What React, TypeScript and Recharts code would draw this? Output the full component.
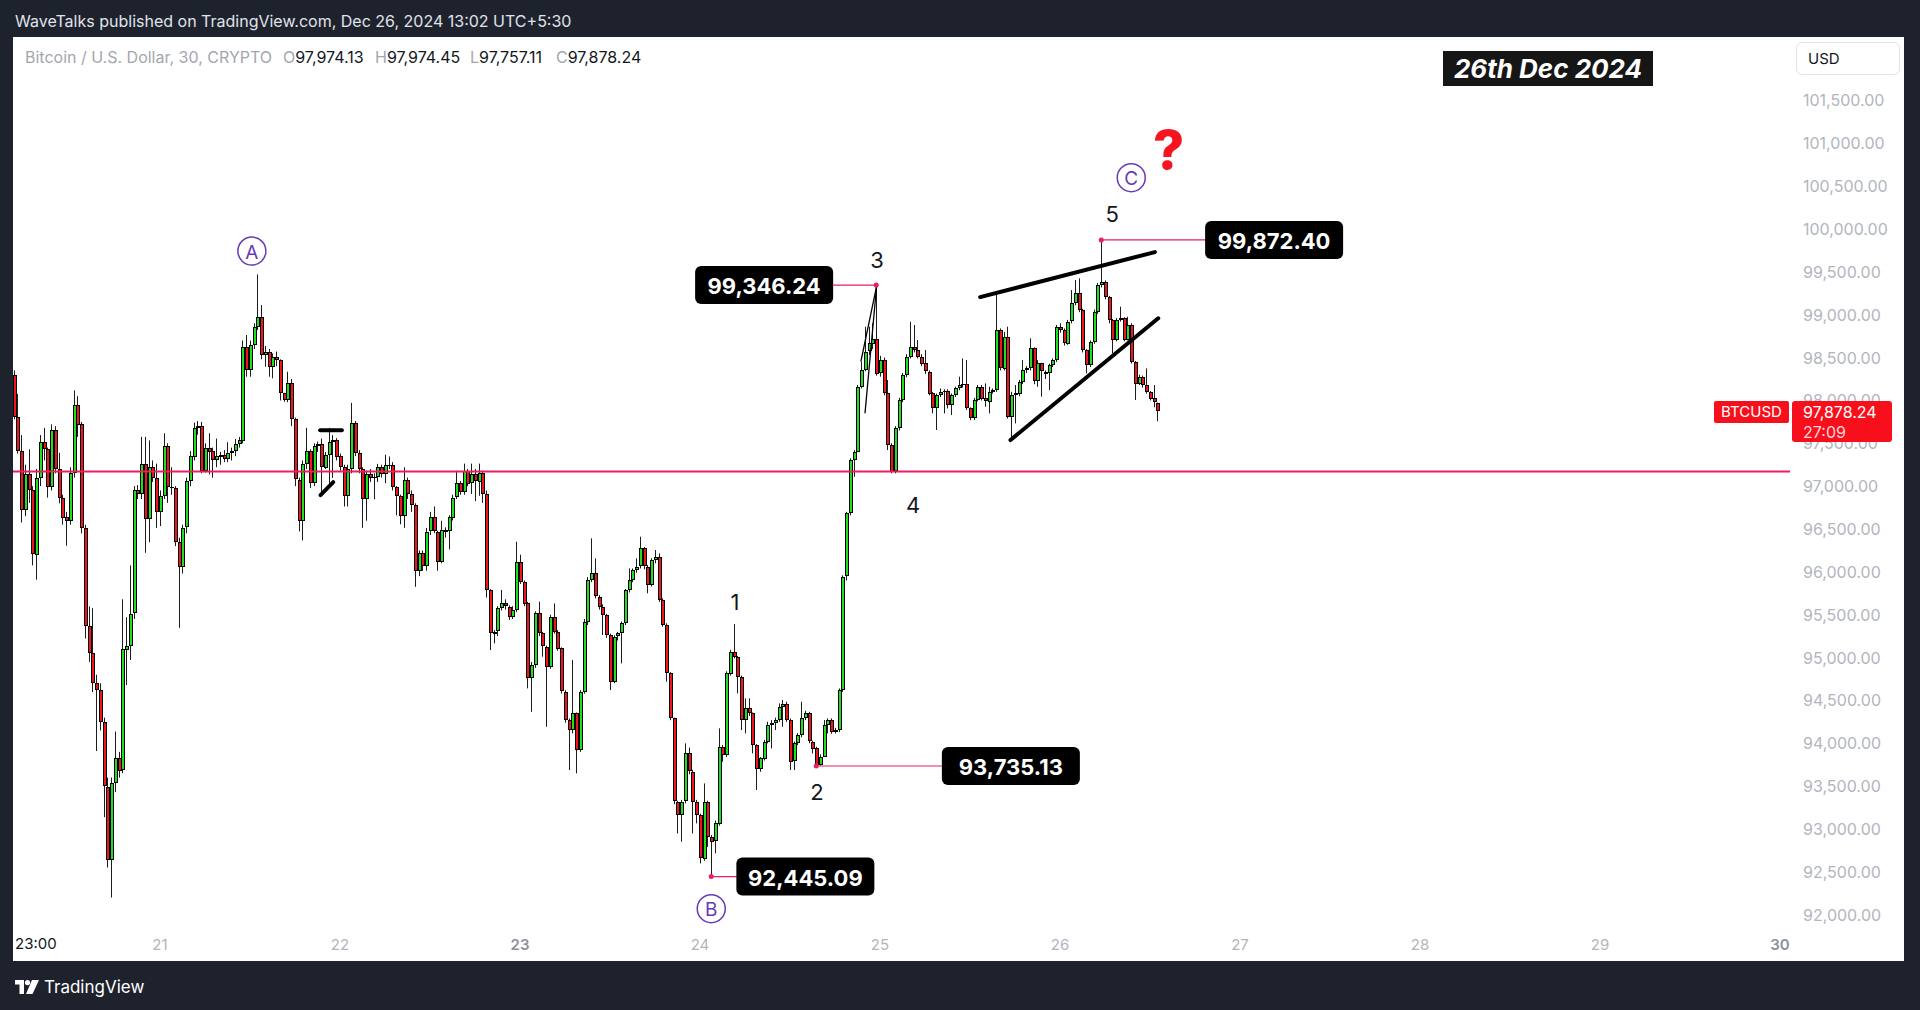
import { ComposedChart, Bar, XAxis, YAxis, ReferenceLine, ReferenceDot } from "recharts";

const FONT = "Inter, 'Noto Sans', sans-serif";
const GREEN = "#1fe01f";
const RED = "#f0141e";
const PINK = "#eb1e5f";
const PURPLE = "#673ab7";

// 30-minute bars, slot 0 = Dec 21 00:00 (UTC+5:30). open of a bar = close of the one before
const FIRST_SLOT = -39;
const FIRST_OPEN = 98300;

const closes = [
  97805, 97409, 96721, 97138, 96950, 96201, 97096, 97513, 97430, 96992,
  97659, 97200, 96867, 96638, 96596, 97159, 97950, 97721, 96513, 95367,
  95055, 94700, 94617, 94243, 93493, 92639, 93535, 93826, 93680, 95097,
  95138, 95513, 96950, 96909, 97263, 96617, 97221, 97096, 96700, 96888,
  97471, 96992, 96980, 96346, 96055, 96513, 97055, 97346, 97680, 97700,
  97180, 97450, 97409, 97305, 97346, 97367, 97320, 97388, 97409, 97492, 97534,
  98627, 98355, 98647, 98861, 98977, 98530, 98569, 98394, 98510, 98472, 98083, 98005, 98199, 97780,
  97076, 96597, 97263, 97409, 97034, 97471, 97492, 97221, 97367, 97513,
  97540, 97346, 97221, 96888, 97200, 97742, 97388, 97200, 96847, 97138,
  97096, 97105, 97221, 97138, 97242, 97250, 96992, 96888, 96659, 97076,
  96909, 96784, 96013, 96222, 96076, 96471, 96638, 96471, 96118, 96492,
  96471, 96638, 96867, 97034, 96930, 97180, 97034, 97138, 97055, 97159, 96909,
  95784, 95282, 95302, 95574, 95632, 95593, 95477, 95555, 96118, 95885,
  95632, 94757, 94913, 95516, 95282, 95127, 94893, 95477, 95302, 95107,
  94602, 94271, 94155, 94349, 93921, 94602, 95418, 95905, 95982, 95710,
  95593, 95496, 95263, 94718, 95243, 95282, 95399, 95788, 95905, 96021,
  96060, 96274, 96060, 95846, 96138, 96177, 95671, 95380, 94816, 94291,
  93318, 93163, 93318, 93882, 93668, 93318, 93163, 92657, 93318, 92910,
  92852, 93066, 93960, 93863, 94816, 95068, 95010, 94777, 94271, 94407,
  94349, 93980, 93696, 93824, 94018, 94213, 94232, 94271, 94427, 94458,
  94271, 93785, 93999, 94096, 94291, 94349, 94018, 93941, 93746, 93843,
  94213, 94271, 94135, 94155, 94621, 95944, 96682, 97305, 97402, 98160,
  98355, 98569, 98666, 98720, 98316, 98471, 98082, 97480, 97168, 97674,
  98005, 98297, 98510, 98627, 98588, 98510, 98432, 98335, 98082, 97907,
  98063, 98102, 98110, 97946, 98063, 98141, 98180, 98190, 97907, 97791,
  98005, 98160, 98024, 97985, 98102, 98121, 98821, 98374, 98744, 97810,
  98063, 98082, 98219, 98355, 98374, 98608, 98219, 98432, 98335, 98316,
  98413, 98471, 98860, 98821, 98666, 98918, 99132, 99249, 99055, 98588,
  98413, 98685, 99035, 99346, 99380, 99210, 98938, 98705, 98938, 98957,
  98705, 98880, 98452, 98199, 98277, 98180, 98102, 98024, 97974.13, 97878.24,
];

const highs = [
  98350, 98075, 97596, 97250, 97430, 97000, 97200, 97596, 97680, 97450,
  97721, 97700, 97388, 96900, 96700, 97221, 98117, 98050, 97750, 96550,
  95597, 95576, 94800, 94700, 94300, 93600, 93600, 94138, 93900, 95680,
  95472, 96076, 97000, 97013, 97575, 97575, 97534, 97300, 97263, 96950,
  97617, 97500, 97221, 97000, 96400, 96550, 97100, 97409, 97742, 97760,
  97750, 97500, 97617, 97450, 97555, 97400, 97420, 97513, 97450, 97550, 97575,
  98700, 98763, 98700, 98900, 99471, 99113, 98635, 98600, 98549, 98570, 98480, 98090, 98335, 98250,
  97800, 97100, 97300, 97680, 97430, 97500, 97520, 97555, 97400, 97680,
  97596, 97560, 97380, 97250, 97250, 97971, 97760, 97420, 97220, 97180,
  97200, 97150, 97260, 97250, 97367, 97346, 97280, 97000, 96900, 97221,
  97100, 96950, 96800, 96250, 96250, 96513, 96700, 96763, 96480, 96597,
  96520, 96660, 96900, 97180, 97060, 97263, 97200, 97263, 97200, 97263, 97180,
  96950, 95800, 95320, 95600, 95788, 95680, 95610, 95600, 96352, 96200,
  95900, 95650, 94950, 95540, 95652, 95300, 95140, 95500, 95632, 95320,
  95120, 94620, 94290, 94971, 94360, 94621, 95450, 95940, 96391, 96157,
  95730, 95620, 95510, 95280, 95260, 95300, 95420, 95800, 96041, 96040,
  96157, 96410, 96290, 96080, 96160, 96255, 96216, 95690, 95400, 94830,
  94300, 93330, 93340, 93999, 93950, 93690, 93340, 93180, 93532, 93330,
  92930, 93100, 94174, 93980, 94840, 95090, 95391, 95020, 94790, 94524,
  94524, 94360, 93990, 93840, 94040, 94252, 94271, 94300, 94466, 94505,
  94485, 94290, 94020, 94120, 94485, 94380, 94368, 94030, 93960, 93870,
  94271, 94290, 94291, 94180, 94640, 95960, 96700, 97324, 97420, 98180,
  98452, 98860, 98860, 98900, 99346.24, 98520, 98500, 98238, 97500, 97700,
  98030, 98320, 98540, 98918, 98880, 98705, 98540, 98588, 98350, 98100,
  98080, 98140, 98130, 98130, 98080, 98160, 98277, 98490, 98471, 97920,
  98030, 98180, 98180, 98199, 98160, 98140, 99230, 98840, 98800, 98860,
  98100, 98180, 98240, 98471, 98400, 98725, 98620, 98470, 98440, 98350,
  98430, 98490, 98880, 98900, 98840, 98940, 99288, 99405, 99424, 99070,
  98600, 98700, 99060, 99370, 99872.4, 99400, 99220, 98950, 98960, 99094,
  98970, 98977, 98900, 98460, 98300, 98290, 98374, 98110, 98180, 97974.45,
];

const lows = [
  97780, 97380, 96576, 96650, 96805, 96076, 95909, 97000, 97300, 96867,
  96950, 97150, 96800, 96550, 96305, 96550, 97100, 97575, 96450, 95222,
  94950, 94597, 93910, 94150, 93139, 92550, 92201, 93430, 93600, 93650,
  94680, 94972, 95450, 96850, 96850, 96222, 96346, 97050, 96513, 96534,
  96850, 96805, 96900, 96300, 95347, 95980, 96450, 97000, 97300, 97600,
  97150, 97159, 97138, 97100, 97221, 97250, 97280, 97280, 97300, 97350, 97450,
  97500, 98277, 98277, 98600, 98822, 98480, 98394, 98277, 98258, 98400, 98000, 97985, 97980, 97700,
  97000, 96472, 96367, 97200, 96980, 97000, 97400, 96888, 97200, 97013,
  97096, 97300, 97180, 96763, 96763, 97150, 97350, 97150, 96513, 96597,
  97050, 96847, 97050, 97100, 97034, 97200, 96950, 96659, 96555, 96513,
  96850, 96700, 95826, 95950, 96013, 96013, 96430, 96450, 96013, 96100,
  96400, 96263, 96600, 96850, 96900, 96900, 97000, 96909, 96826, 96888, 96805,
  95700, 95088, 95166, 95250, 95550, 95560, 95440, 95450, 95530, 95860,
  95600, 94641, 94368, 94880, 95250, 95010, 94193, 94870, 95280, 95080,
  94580, 94240, 93688, 94116, 93649, 93900, 94580, 95380, 95880, 95690,
  95560, 95263, 95230, 94621, 94700, 95200, 94932, 95380, 95760, 95880,
  95990, 96040, 96030, 95750, 95830, 96100, 95650, 95360, 94718, 94270,
  93290, 92949, 92852, 93300, 93640, 92949, 93066, 92599, 92630, 92793,
  92445.09, 92716, 93040, 93785, 93840, 94790, 94990, 94582, 94155, 94116,
  94320, 93882, 93455, 93668, 93800, 94000, 93941, 94155, 94250, 94193,
  94250, 93688, 93688, 93980, 94070, 94270, 94000, 93882, 93735.13, 93740,
  93960, 94116, 94110, 94116, 94130, 94600, 95900, 96660, 97110, 97400,
  98140, 98340, 98530, 98600, 98290, 98277, 98060, 97421, 97150, 97150,
  97650, 97980, 98270, 98490, 98560, 98490, 98400, 98310, 98060, 97849,
  97655, 98040, 97849, 97907, 97830, 98040, 98120, 98150, 97890, 97770,
  97771, 97990, 98000, 97927, 97849, 98080, 98100, 98350, 98350, 97790,
  97538, 97732, 98050, 98190, 98320, 98350, 98190, 98160, 98044, 98250,
  98121, 98390, 98450, 98790, 98640, 98650, 98900, 99110, 99030, 98560,
  98316, 98390, 98660, 99010, 99320, 99180, 98900, 98549, 98690, 98920,
  98690, 98700, 98430, 98005, 98180, 98150, 98080, 98000, 97920, 97757.11,
];

const dayTicks = [0, 48, 96, 144, 192, 240, 288, 336, 384, 432];
const dayLabels = ["21", "22", "23", "24", "25", "26", "27", "28", "29", "30"];
const strongDays = ["23", "30"];
const priceTicks = [
  92000, 92500, 93000, 93500, 94000, 94500, 95000, 95500, 96000, 96500,
  97000, 97500, 98000, 98500, 99000, 99500, 100000, 100500, 101000, 101500,
];

const SUPPORT = 97171;
const LAST_PRICE = 97878.24;

const priceMarks = [
  { t: 191, price: 99346.24, boxT: 161.1, text: "99,346.24" },
  { t: 251, price: 99872.4, boxT: 297.1, text: "99,872.40" },
  { t: 175, price: 93735.13, boxT: 226.9, text: "93,735.13" },
  { t: 147, price: 92445.09, boxT: 172.1, text: "92,445.09" },
];

const waveLabels = [
  { t: 153.3, price: 95645, text: "1" },
  { t: 175.2, price: 93430, text: "2" },
  { t: 191.2, price: 99643, text: "3" },
  { t: 200.8, price: 96786, text: "4" },
  { t: 253.9, price: 100171, text: "5" },
];

const circledLabels = [
  { t: 24.5, price: 99743, text: "A" },
  { t: 147, price: 92071, text: "B" },
  { t: 259, price: 100599, text: "C" },
];

// hand-drawn lines, in [slot, price] pairs
const thickLines = [
  [[218.7, 99206], [265.3, 99731]],
  [[226.8, 97538], [266.2, 98958]],
  [[42.7, 97651], [48.5, 97651]],
  [[42.8, 96896], [46.2, 97047]],
];
const thinLines = [
  [[186.9, 98452], [191.1, 99335]],
  [[191.1, 99335], [188, 97850]],
];

const X_MIN = -39.2;
const X_MAX = 434.67;
const Y_MIN = 91822;
const Y_MAX = 102240;
const PLOT_TOP = 37;
const PLOT_H = 893;
// same linear map the price axis uses, for the html last-price tag drawn over the axis
const priceToY = (p: number) => PLOT_TOP + ((Y_MAX - p) / (Y_MAX - Y_MIN)) * PLOT_H;

const candles = closes.map((close, i) => ({
  t: FIRST_SLOT + i,
  open: i === 0 ? FIRST_OPEN : closes[i - 1],
  close,
  high: highs[i],
  low: lows[i],
  range: [lows[i], highs[i]],
}));

const fmt = (v: number) =>
  v.toLocaleString("en-US", { minimumFractionDigits: 2, maximumFractionDigits: 2 });

function Candle(props: any) {
  const { x, y, width, height, payload } = props;
  if (x == null || y == null || !payload) return null;
  const top = Math.min(y, y + height);
  const h = Math.abs(height);
  const { open, close, high, low } = payload;
  const k = high > low ? h / (high - low) : 0;
  const yOf = (p: number) => top + (high - p) * k;
  const cx = Math.round(x + width / 2);
  const yO = yOf(open);
  const yC = yOf(close);
  const bTop = Math.round(Math.min(yO, yC));
  const bH = Math.max(Math.round(Math.abs(yO - yC)), 1);
  const up = close >= open;
  return (
    <g>
      <rect x={cx} y={top} width={1} height={Math.max(h, 1)} fill="#1c1c1c" />
      <rect x={cx - 1} y={bTop} width={4} height={bH} fill="#000" />
      {bH > 2 && (
        <rect x={cx} y={bTop + 1} width={2} height={bH - 2} fill={up ? GREEN : RED} />
      )}
    </g>
  );
}

function DayTick(props: any) {
  const { x, payload } = props;
  const label = dayLabels[dayTicks.indexOf(payload.value)] ?? "";
  const strong = strongDays.includes(label);
  return (
    <text
      x={x}
      y={944}
      textAnchor="middle"
      dominantBaseline="central"
      fontSize={15}
      fontFamily={FONT}
      fontWeight={strong ? 600 : 400}
      fill={strong ? "#8e9199" : "#b2b5be"}
    >
      {label}
    </text>
  );
}

function PriceTick(props: any) {
  const { y, payload } = props;
  return (
    <text x={1803} y={y} dominantBaseline="central" fontSize={16} fontFamily={FONT} fill="#b2b5be">
      {fmt(payload.value)}
    </text>
  );
}

export default function App() {
  const lastY = priceToY(LAST_PRICE);
  return (
    <div
      style={{
        position: "absolute",
        left: 0,
        top: 0,
        width: 1920,
        height: 1010,
        background: "#1e222d",
        fontFamily: FONT,
        overflow: "hidden",
      }}
    >
      <div style={{ position: "absolute", left: 15, top: 11, fontSize: 16, lineHeight: "20px", color: "#e0e3eb" }}>
        WaveTalks published on TradingView.com, Dec 26, 2024 13:02 UTC+5:30
      </div>

      <div style={{ position: "absolute", left: 13, top: 37, width: 1891, height: 924, background: "#ffffff" }} />

      <div style={{ position: "absolute", left: 0, top: 0 }}>
        <ComposedChart
          width={1920}
          height={1010}
          data={candles}
          margin={{ top: 37, right: 16, bottom: 49, left: 13 }}
        >
          <XAxis
            dataKey="t"
            type="number"
            domain={[X_MIN, X_MAX]}
            ticks={dayTicks}
            tick={(p: any) => <DayTick {...p} />}
            axisLine={false}
            tickLine={false}
            height={31}
            allowDataOverflow
          />
          <YAxis
            orientation="right"
            type="number"
            domain={[Y_MIN, Y_MAX]}
            ticks={priceTicks}
            tick={(p: any) => <PriceTick {...p} />}
            axisLine={false}
            tickLine={false}
            width={114}
            allowDataOverflow
          />
          <Bar dataKey="range" barSize={4} shape={(p: any) => <Candle {...p} />} isAnimationActive={false} />

          <ReferenceLine y={SUPPORT} stroke={PINK} strokeWidth={2} />

          {thickLines.map((s, i) => (
            <ReferenceLine
              key={`tl${i}`}
              segment={[{ x: s[0][0], y: s[0][1] }, { x: s[1][0], y: s[1][1] }]}
              stroke="#000"
              strokeWidth={4}
              strokeLinecap="round"
            />
          ))}
          {thinLines.map((s, i) => (
            <ReferenceLine
              key={`nl${i}`}
              segment={[{ x: s[0][0], y: s[0][1] }, { x: s[1][0], y: s[1][1] }]}
              stroke="#000"
              strokeWidth={1.3}
            />
          ))}

          {priceMarks.map((m) => (
            <ReferenceLine
              key={`c${m.text}`}
              segment={[{ x: m.t, y: m.price }, { x: m.boxT, y: m.price }]}
              stroke={PINK}
              strokeWidth={1.2}
            />
          ))}
          {priceMarks.map((m) => (
            <ReferenceDot key={`d${m.text}`} x={m.t} y={m.price} r={2.5} fill={PINK} stroke="none" />
          ))}
          {priceMarks.map((m) => (
            <ReferenceDot
              key={`b${m.text}`}
              x={m.boxT}
              y={m.price}
              shape={(p: any) => (
                <g>
                  <rect x={p.cx - 69} y={p.cy - 19} width={138} height={38} rx={6} fill="#000" />
                  <text
                    x={p.cx}
                    y={p.cy + 1}
                    textAnchor="middle"
                    dominantBaseline="central"
                    fontSize={22}
                    fontWeight={700}
                    fontFamily={FONT}
                    fill="#fff"
                  >
                    {m.text}
                  </text>
                </g>
              )}
            />
          ))}

          {waveLabels.map((w) => (
            <ReferenceDot
              key={`w${w.text}`}
              x={w.t}
              y={w.price}
              shape={(p: any) => (
                <text
                  x={p.cx}
                  y={p.cy}
                  textAnchor="middle"
                  dominantBaseline="central"
                  fontSize={22}
                  fontFamily={FONT}
                  fill="#131722"
                >
                  {w.text}
                </text>
              )}
            />
          ))}
          {circledLabels.map((c) => (
            <ReferenceDot
              key={`o${c.text}`}
              x={c.t}
              y={c.price}
              shape={(p: any) => (
                <g>
                  <circle cx={p.cx} cy={p.cy} r={14} fill="none" stroke={PURPLE} strokeWidth={1.5} />
                  <text
                    x={p.cx}
                    y={p.cy + 1}
                    textAnchor="middle"
                    dominantBaseline="central"
                    fontSize={19}
                    fontFamily={FONT}
                    fill={PURPLE}
                  >
                    {c.text}
                  </text>
                </g>
              )}
            />
          ))}
          <ReferenceDot
            x={269}
            y={100928}
            shape={(p: any) => (
              <text
                x={p.cx}
                y={p.cy}
                textAnchor="middle"
                dominantBaseline="central"
                fontSize={54}
                fontWeight={800}
                fontFamily={FONT}
                fill="#f7141e"
              >
                ?
              </text>
            )}
          />
        </ComposedChart>
      </div>

      {/* last price tag, sits over the price scale */}
      <div
        style={{
          position: "absolute",
          left: 1714,
          top: lastY - 10,
          width: 75,
          height: 22,
          borderRadius: 2,
          background: "#f7101c",
          color: "#fff",
          fontSize: 15,
          lineHeight: "22px",
          textAlign: "center",
        }}
      >
        BTCUSD
      </div>
      <div
        style={{
          position: "absolute",
          left: 1792,
          top: lastY - 10,
          width: 100,
          height: 41,
          borderRadius: 3,
          background: "#f7101c",
          color: "#fff",
          fontSize: 16,
          lineHeight: "20px",
          paddingLeft: 11,
          paddingTop: 1,
          boxSizing: "border-box",
        }}
      >
        <div>{fmt(LAST_PRICE)}</div>
        <div style={{ color: "#ffd6d8" }}>27:09</div>
      </div>

      <div
        style={{
          position: "absolute",
          left: 25,
          top: 48,
          fontSize: 16,
          lineHeight: "19px",
          color: "#a3a6af",
          whiteSpace: "nowrap",
        }}
      >
        Bitcoin / U.S. Dollar, 30, CRYPTO
      </div>
      {[
        { k: "O", v: "97,974.13", x: 283 },
        { k: "H", v: "97,974.45", x: 375 },
        { k: "L", v: "97,757.11", x: 470 },
        { k: "C", v: "97,878.24", x: 556 },
      ].map((o) => (
        <div
          key={o.k}
          style={{ position: "absolute", left: o.x, top: 48, fontSize: 16, lineHeight: "19px", whiteSpace: "nowrap" }}
        >
          <span style={{ color: "#a3a6af" }}>{o.k}</span>
          <span style={{ color: "#131722" }}>{o.v}</span>
        </div>
      ))}

      <div
        style={{
          position: "absolute",
          left: 1443,
          top: 51,
          width: 210,
          height: 35,
          background: "#161616",
          color: "#fff",
          fontSize: 26,
          fontWeight: 700,
          fontStyle: "italic",
          lineHeight: "35px",
          textAlign: "center",
        }}
      >
        26th Dec 2024
      </div>

      <div
        style={{
          position: "absolute",
          left: 1796,
          top: 42,
          width: 104,
          height: 33,
          border: "1px solid #e0e3eb",
          borderRadius: 6,
          boxSizing: "border-box",
          fontSize: 15,
          lineHeight: "31px",
          paddingLeft: 11,
          color: "#131722",
        }}
      >
        USD
      </div>

      <div style={{ position: "absolute", left: 15, top: 934, fontSize: 15, lineHeight: "20px", color: "#131722" }}>
        23:00
      </div>

      <div style={{ position: "absolute", left: 15, top: 977, display: "flex", alignItems: "center", gap: 5 }}>
        <svg width="24" height="14" viewBox="0 0 24 14">
          <path d="M0 0h9v14H4.5V4.5H0z" fill="#fff" />
          <circle cx="12.5" cy="2.6" r="2.6" fill="#fff" />
          <path d="M17 0h7l-6.5 14H11z" fill="#fff" />
        </svg>
        <span style={{ color: "#fff", fontSize: 17, lineHeight: "20px" }}>TradingView</span>
      </div>
    </div>
  );
}
